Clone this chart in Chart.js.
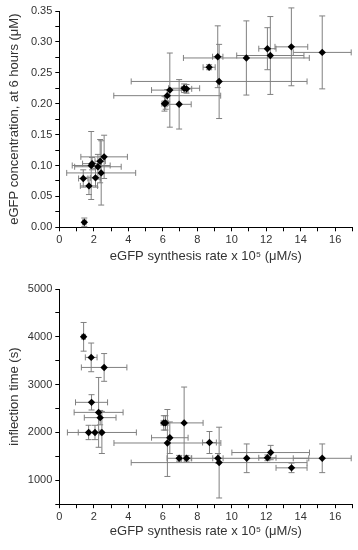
<!DOCTYPE html>
<html>
<head>
<meta charset="utf-8">
<script src="https://cdn.jsdelivr.net/npm/chart.js@4/dist/chart.umd.min.js"></script>
<style>
  body { margin: 0; background: #fff; }
  .box { position: absolute; left: 0; width: 358px; height: 275px; }
</style>
</head>
<body>
<div class="box" style="top:0"><canvas id="conc" width="358" height="275"></canvas></div>
<div class="box" style="top:275px"><canvas id="infl" width="358" height="275"></canvas></div>
<script>
// top panel: eGFP concentration at 6 h
const rateX = [1.45, 1.39, 1.72, 1.85, 1.90, 2.10, 2.24, 2.37, 2.43, 2.60, 6.10, 6.17, 6.26, 6.41, 6.95, 7.24, 7.38, 8.69, 9.19, 9.27, 10.85, 12.07, 12.24, 13.46, 15.25];
const rateXErr = [0.10, 0.27, 0.50, 1.10, 0.55, 0.30, 1.35, 0.30, 2.00, 1.35, 0.15, 0.15, 3.10, 1.06, 0.70, 0.90, 0.30, 0.35, 0.30, 5.10, 3.65, 0.50, 1.95, 0.95, 1.68];
const concY = [0.008, 0.079, 0.067, 0.100, 0.103, 0.080, 0.098, 0.107, 0.088, 0.114, 0.200, 0.201, 0.213, 0.222, 0.199, 0.225, 0.224, 0.259, 0.276, 0.236, 0.274, 0.289, 0.278, 0.292, 0.283];
const concYErr = [0.007, 0.014, 0.014, 0.055, 0.010, 0.015, 0.020, 0.035, 0.052, 0.035, 0.012, 0.010, 0.010, 0.060, 0.040, 0.007, 0.007, 0.004, 0.050, 0.060, 0.060, 0.034, 0.063, 0.063, 0.059];

// bottom panel: inflection time
const rateX2 = [1.41, 1.85, 2.60, 1.87, 2.28, 2.37, 1.70, 2.07, 2.47, 6.06, 6.16, 6.27, 6.41, 6.95, 7.24, 7.38, 8.71, 9.20, 9.27, 10.87, 12.07, 12.26, 13.47, 15.25];
const rateX2Err = [0.10, 0.34, 1.32, 0.93, 1.42, 0.92, 0.60, 0.30, 2.00, 0.15, 0.15, 3.10, 1.06, 0.70, 1.10, 0.30, 0.40, 0.30, 5.10, 3.60, 0.50, 2.25, 0.90, 1.68];
const inflT = [4000, 3570, 3360, 2630, 2420, 2310, 2000, 2000, 2000, 2200, 2200, 1780, 1890, 1460, 2200, 1460, 1790, 1460, 1370, 1460, 1470, 1580, 1260, 1460];
const inflTErr = [300, 300, 290, 160, 730, 150, 150, 150, 440, 150, 150, 700, 330, 60, 750, 60, 230, 100, 740, 300, 60, 150, 100, 300];

const xTitle = 'eGFP synthesis rate x 10\u2075 (\u03bcM/s)';
const FONT = 'Liberation Sans, Arial, sans-serif';

// error bars drawn behind the points, using the chart's scales
const errorBars = {
  id: 'errorBars',
  beforeDatasetsDraw(chart) {
    const { ctx, scales: { x, y } } = chart;
    const ds = chart.data.datasets[0];
    const cap = 3;
    ctx.save();
    ctx.strokeStyle = '#808080';
    ctx.lineWidth = 1;
    ds.data.forEach((p) => {
      const px = x.getPixelForValue(p.x), py = y.getPixelForValue(p.y);
      const x0 = x.getPixelForValue(p.x - p.xe), x1 = x.getPixelForValue(p.x + p.xe);
      const y0 = y.getPixelForValue(p.y - p.ye), y1 = y.getPixelForValue(p.y + p.ye);
      ctx.beginPath();
      ctx.moveTo(x0, py); ctx.lineTo(x1, py);
      ctx.moveTo(x0, py - cap); ctx.lineTo(x0, py + cap);
      ctx.moveTo(x1, py - cap); ctx.lineTo(x1, py + cap);
      ctx.moveTo(px, y0); ctx.lineTo(px, y1);
      ctx.moveTo(px - cap, y0); ctx.lineTo(px + cap, y0);
      ctx.moveTo(px - cap, y1); ctx.lineTo(px + cap, y1);
      ctx.stroke();
    });
    ctx.restore();
  }
};

function makeChart(id, xs, xe, ys, ye, yOpts, topPad, bottom) {
  const pts = xs.map((v, i) => ({ x: v, y: ys[i], xe: xe[i], ye: ye[i] }));
  return new Chart(document.getElementById(id), {
    type: 'scatter',
    data: { datasets: [{ data: pts, pointStyle: 'rectRot', pointRadius: 3.7, backgroundColor: '#000', borderColor: '#000', borderWidth: 0 }] },
    plugins: [errorBars],
    options: {
      responsive: false,
      devicePixelRatio: 1,
      animation: false,
      layout: { padding: { left: 0, right: 5.6, top: topPad, bottom: 0 } },
      plugins: { legend: { display: false }, tooltip: { enabled: false } },
      scales: {
        x: {
          type: 'linear', min: 0, max: 17,
          ticks: { stepSize: 1, autoSkip: false, maxRotation: 0, color: '#333', font: { family: FONT, size: 11 }, padding: 2,
            callback: (v) => (v % 2 === 0 ? String(v) : '') },
          grid: { drawOnChartArea: false, tickLength: 4, color: '#000', tickColor: '#000' },
          border: { color: '#000', width: 1 },
          title: { display: true, text: xTitle, color: '#333', font: { family: FONT, size: 13 }, padding: { top: 6, bottom: 11 } },
          afterFit: (s) => { s.height = 275 - bottom; }
        },
        y: Object.assign({
          ticks: Object.assign({ autoSkip: false, color: '#333', font: { family: FONT, size: 11 }, padding: 3 }, yOpts.ticks),
          grid: { drawOnChartArea: false, tickLength: 4, color: '#000', tickColor: '#000' },
          border: { color: '#000', width: 1 },
          title: { display: true, text: yOpts.title, color: '#333', font: { family: FONT, size: 13 }, padding: { top: 7, bottom: 2 } },
          afterFit: (s) => { s.width = 59.3; }
        }, yOpts.range)
      }
    }
  });
}

makeChart('conc', rateX, rateXErr, concY, concYErr, {
  title: 'eGFP concentration, at 6 hours (\u03bcM)',
  range: { min: 0, max: 0.35 },
  ticks: { stepSize: 0.025, callback: (v) => (Math.round(v * 1000) % 50 === 0 ? v.toFixed(2) : '') }
}, 11, 227.3);

makeChart('infl', rateX2, rateX2Err, inflT, inflTErr, {
  title: 'inflection time (s)',
  range: { min: 500, max: 5000 },
  ticks: { stepSize: 500, callback: (v) => (v % 1000 === 0 ? String(v) : '') }
}, 14, 229.2);
</script>
</body>
</html>
